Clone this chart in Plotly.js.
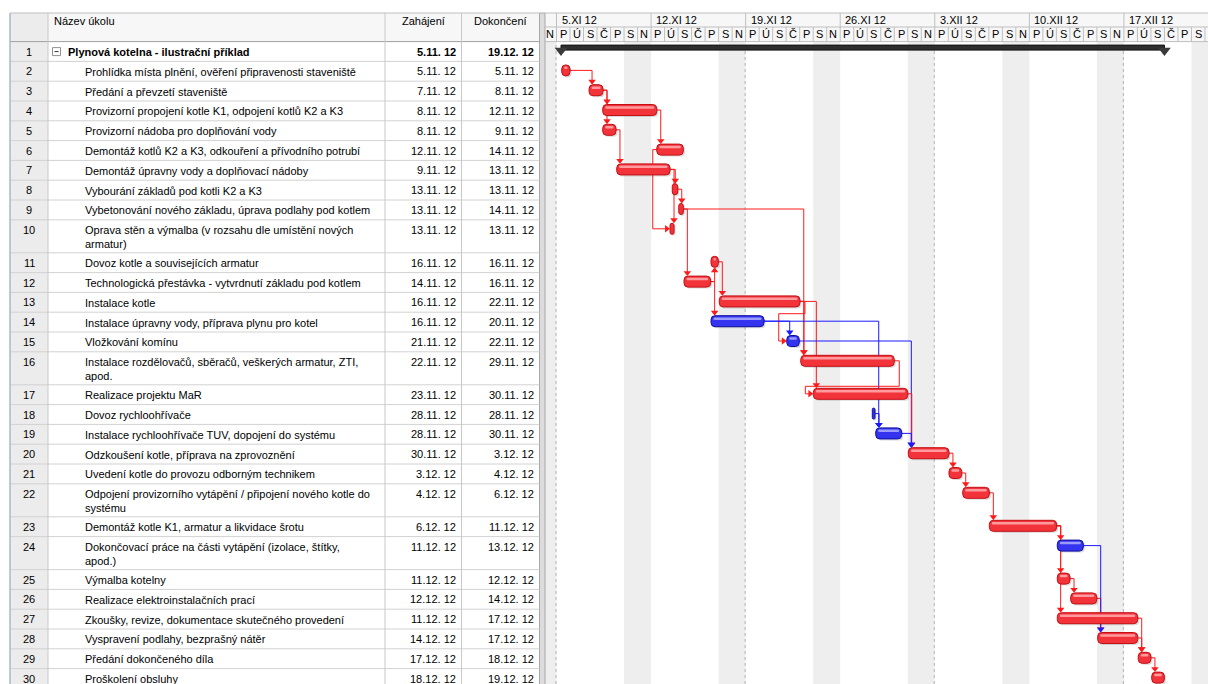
<!DOCTYPE html>
<html><head><meta charset="utf-8">
<script src="https://cdn.plot.ly/plotly-3.0.1.min.js"></script>
<style>html,body{margin:0;padding:0;background:#fff;}#chart{width:1208px;height:684px;}</style>
</head><body><div id="chart"></div>
<script>
// ---------------- DATA ----------------
const taskIds = [1,2,3,4,5,6,7,8,9,10,11,12,13,14,15,16,17,18,19,20,21,22,23,24,25,26,27,28,29,30];
const taskNames = [
 'Plynová kotelna - ilustrační příklad',
 'Prohlídka místa plnění, ověření připravenosti staveniště',
 'Předání a převzetí staveniště',
 'Provizorní propojení kotle K1, odpojení kotlů K2 a K3',
 'Provizorní nádoba pro doplňování vody',
 'Demontáž kotlů K2 a K3, odkouření a přívodního potrubí',
 'Demontáž úpravny vody a doplňovací nádoby',
 'Vybourání základů pod kotli K2 a K3',
 'Vybetonování nového základu, úprava podlahy pod kotlem',
 'Oprava stěn a výmalba (v rozsahu dle umístění nových<br>armatur)',
 'Dovoz kotle a souvisejících armatur',
 'Technologická přestávka - vytvrdnutí základu pod kotlem',
 'Instalace kotle',
 'Instalace úpravny vody, příprava plynu pro kotel',
 'Vložkování komínu',
 'Instalace rozdělovačů, sběračů, veškerých armatur, ZTI,<br>apod.',
 'Realizace projektu MaR',
 'Dovoz rychloohřívače',
 'Instalace rychloohřívače TUV, dopojení do systému',
 'Odzkoušení kotle, příprava na zprovoznění',
 'Uvedení kotle do provozu odborným technikem',
 'Odpojení provizorního vytápění / připojení nového kotle do<br>systému',
 'Demontáž kotle K1, armatur a likvidace šrotu',
 'Dokončovací práce na části vytápění (izolace, štítky,<br>apod.)',
 'Výmalba kotelny',
 'Realizace elektroinstalačních prací',
 'Zkoušky, revize, dokumentace skutečného provedení',
 'Vyspravení podlahy, bezprašný nátěr',
 'Předání dokončeného díla',
 'Proškolení obsluhy'
];
const startLabels = ['5.11. 12','5.11. 12','7.11. 12','8.11. 12','8.11. 12','12.11. 12','9.11. 12','13.11. 12','13.11. 12','13.11. 12','16.11. 12','14.11. 12','16.11. 12','16.11. 12','21.11. 12','22.11. 12','23.11. 12','28.11. 12','28.11. 12','30.11. 12','3.12. 12','4.12. 12','6.12. 12','11.12. 12','11.12. 12','12.12. 12','11.12. 12','14.12. 12','17.12. 12','18.12. 12'];
const finishLabels = ['19.12. 12','5.11. 12','8.11. 12','12.11. 12','9.11. 12','14.11. 12','13.11. 12','13.11. 12','14.11. 12','13.11. 12','16.11. 12','16.11. 12','22.11. 12','20.11. 12','22.11. 12','29.11. 12','30.11. 12','28.11. 12','30.11. 12','3.12. 12','4.12. 12','6.12. 12','11.12. 12','13.12. 12','12.12. 12','14.12. 12','17.12. 12','17.12. 12','18.12. 12','19.12. 12'];
// bar extents as drawn in the timeline
const barStart = ['2012-11-05 08:00','2012-11-05 09:15','2012-11-07 09:50','2012-11-08 10:05','2012-11-08 10:05','2012-11-12 10:05','2012-11-09 11:00','2012-11-13 13:40','2012-11-14 01:10','2012-11-13 09:40','2012-11-16 10:30','2012-11-14 10:30','2012-11-17 01:10','2012-11-16 10:30','2012-11-22 01:00','2012-11-23 01:55','2012-11-24 00:15','2012-11-28 09:00','2012-11-28 15:05','2012-12-01 01:00','2012-12-04 01:10','2012-12-05 01:40','2012-12-07 00:55','2012-12-12 01:40','2012-12-12 01:40','2012-12-13 01:25','2012-12-12 01:40','2012-12-15 01:25','2012-12-18 01:25','2012-12-19 01:25'];
const barEnd = ['2012-12-20 00:00','2012-11-06 00:00','2012-11-08 10:35','2012-11-12 10:05','2012-11-09 09:40','2012-11-14 09:20','2012-11-13 09:40','2012-11-13 23:20','2012-11-14 09:20','2012-11-13 16:50','2012-11-16 23:30','2012-11-16 09:50','2012-11-23 00:30','2012-11-20 08:40','2012-11-22 23:20','2012-11-30 00:00','2012-12-01 00:00','2012-11-28 13:50','2012-11-30 13:10','2012-12-04 01:10','2012-12-04 23:50','2012-12-07 00:55','2012-12-12 00:30','2012-12-13 23:50','2012-12-13 00:15','2012-12-14 23:45','2012-12-18 00:30','2012-12-18 00:30','2012-12-19 00:00','2012-12-19 23:50'];
const isSummary = [true,false,false,false,false,false,false,false,false,false,false,false,false,false,false,false,false,false,false,false,false,false,false,false,false,false,false,false,false,false];
const isCritical = [true,true,true,true,true,true,true,true,true,true,true,true,true,false,false,true,true,false,false,true,true,true,true,false,true,true,true,true,true,true];
// finish-to-start links [predecessor id, successor id]
const fsLinks = [[2,3],[3,4],[3,5],[4,6],[5,7],[7,8],[8,9],[7,10],[9,12],[12,11],[12,14],[11,13],[9,16],[13,15],[13,16],[13,17],[14,15],[14,19],[18,19],[16,17],[15,20],[17,20],[19,20],[20,21],[21,22],[22,23],[23,24],[23,25],[23,27],[25,26],[26,28],[24,28],[27,29],[28,29],[29,30]];
// start-to-start links
const ssLinks = [[6,10]];
const weekStarts = ['2012-11-05','2012-11-12','2012-11-19','2012-11-26','2012-12-03','2012-12-10','2012-12-17'];
const weekLabels = ['5.XI 12','12.XI 12','19.XI 12','26.XI 12','3.XII 12','10.XII 12','17.XII 12'];
const dayLetters = ['N','P','Ú','S','Č','P','S']; // Sunday..Saturday
const headerLabels = ['Název úkolu','Zahájení','Dokončení'];

// ---------------- LAYOUT CONSTANTS ----------------
const W = 1208, H = 684;
const GX0 = 545;            // left edge of timeline
const ORIGIN_PX = 556.5;    // pixel of 5.11.2012 00:00
const PXDAY = 13.51;        // pixels per day
const HDR_TOP = 13, HDR_MID = 27, HDR_BOT = 41.6;
const ROW_H = 19.8, ROW_H2 = 33;
const COL = {left:10, num:48, start:385, end:461.5, right:539.5};
const FONT = 'Liberation Sans, Arial, sans-serif';
const DAY = 86400000;
const T0 = Date.UTC(2012,10,5);
const MSPX = DAY / PXDAY;
const RED = '#ff1a1a', BLUE = '#1a1aff';

function parseDT(s){const p=s.split(' ');const d=p[0].split('-').map(Number);const t=(p[1]||'00:00').split(':').map(Number);return Date.UTC(d[0],d[1]-1,d[2],t[0],t[1]);}
function fmt(ms){return new Date(ms).toISOString().slice(0,23).replace('T',' ');}
const PX = x => x / W;
const PY = y => 1 - y / H;
const xL = T0 + (GX0 - ORIGIN_PX) * MSPX;
const xR = T0 + (W - ORIGIN_PX) * MSPX;

// rows
const nLines = taskNames.map(n => n.split('<br>').length);
const rowTop = []; let acc = HDR_BOT;
nLines.forEach(l => { rowTop.push(acc); acc += (l === 1 ? ROW_H : ROW_H2); });
const rowBot = rowTop.map((t,i) => t + (nLines[i] === 1 ? ROW_H : ROW_H2));
const barY = rowTop.map(t => t + 9);
const S = barStart.map(parseDT), E = barEnd.map(parseDT);
const idx = id => taskIds.indexOf(id);

const shapes = [], annotations = [];

// ---------- timeline background: weekends, biweekly dotted lines ----------
for (let t = T0 - 2*DAY; t < xR; t += DAY) {
  const wd = new Date(t).getUTCDay();
  if (wd === 6) shapes.push({type:'rect', xref:'x', yref:'paper', x0:fmt(t), x1:fmt(t+2*DAY), y0:0, y1:PY(HDR_BOT), fillcolor:'#eeeeee', line:{width:0}, layer:'below'});
}
[0,2,4,6].forEach(k => { const t = parseDT(weekStarts[k]) - 0.5*MSPX; shapes.push({type:'line', xref:'x', yref:'paper', x0:fmt(t), x1:fmt(t), y0:0, y1:PY(HDR_BOT), line:{color:'#b4b4b4', width:1, dash:'dot'}, layer:'below'}); });

// ---------- links ----------
const arrows = {red:{x:[],y:[],s:[]}, blue:{x:[],y:[],s:[]}};
function seg(pts, color){
  for (let k=0;k<pts.length-1;k++) shapes.push({type:'line', xref:'x', yref:'y', x0:fmt(pts[k][0]), y0:pts[k][1], x1:fmt(pts[k+1][0]), y1:pts[k+1][1], line:{color:color, width:1}, layer:'below'});
}
fsLinks.forEach(([a,b]) => {
  const p = idx(a), s = idx(b);
  const key = isCritical[p] ? 'red' : 'blue', color = isCritical[p] ? RED : BLUE;
  const px = E[p], py = barY[p], sx = S[s], sy = barY[s];
  if (sx >= px - 1*MSPX) {
    const ax = Math.max(sx + 3*MSPX, px + 4*MSPX);
    const down = barY[s] > barY[p];
    const yEdge = down ? sy - 5.5 : sy + 5.5;
    seg([[px,py],[ax,py],[ax, down ? yEdge-2 : yEdge+2]], color);
    arrows[key].x.push(fmt(ax)); arrows[key].y.push(down ? yEdge-3.3 : yEdge+3.3); arrows[key].s.push(down ? 'triangle-down' : 'triangle-up');
  } else {
    const turnY = rowBot[p] + 1.5;
    seg([[px,py],[px+5*MSPX,py],[px+5*MSPX,turnY],[sx-8*MSPX,turnY],[sx-8*MSPX,sy],[sx-4*MSPX,sy]], color);
    arrows[key].x.push(fmt(sx-3.3*MSPX)); arrows[key].y.push(sy); arrows[key].s.push('triangle-right');
  }
});
ssLinks.forEach(([a,b]) => {
  const p = idx(a), s = idx(b);
  const key = isCritical[p] ? 'red' : 'blue', color = isCritical[p] ? RED : BLUE;
  const ps = S[p], py = barY[p], ss = S[s], sy = barY[s];
  seg([[ps,py],[ps-4*MSPX,py],[ps-4*MSPX,sy],[ss-4*MSPX,sy]], color);
  arrows[key].x.push(fmt(ss-3.3*MSPX)); arrows[key].y.push(sy); arrows[key].s.push('triangle-right');
});

// ---------- traces ----------
const traces = [];
const taskIdx = taskIds.map((_,i)=>i).filter(i=>!isSummary[i]);
function bars(list, color, lineColor, hi){
  traces.push({type:'bar', orientation:'h', y:list.map(i=>barY[i]), base:list.map(i=>fmt(S[i]+1.5*MSPX)), x:list.map(i=>E[i]-S[i]), width:11, offset:-4, marker:{color:'rgba(0,0,0,0.14)', line:{width:0}, cornerradius:4}, hoverinfo:'skip'});
  traces.push({type:'bar', orientation:'h', y:list.map(i=>barY[i]), base:list.map(i=>fmt(S[i])), x:list.map(i=>E[i]-S[i]), width:11, offset:-5.5, marker:{color:color, line:{color:lineColor, width:1}, cornerradius:4}, hoverinfo:'skip'});
  const hl = list.filter(i => (E[i]-S[i]) > 7*MSPX);
  traces.push({type:'bar', orientation:'h', y:hl.map(i=>barY[i]), base:hl.map(i=>fmt(S[i]+2.5*MSPX)), x:hl.map(i=>E[i]-S[i]-5*MSPX), width:2.5, offset:-3.8, marker:{color:hi, line:{width:0}, cornerradius:1}, hoverinfo:'skip'});
}
bars(taskIdx.filter(i=>isCritical[i]), '#f2343a', '#c40f16', '#ff9a9e');
bars(taskIdx.filter(i=>!isCritical[i]), '#3434f0', '#10109e', '#9a9aff');
// summary
const sumIdx = taskIds.map((_,i)=>i).filter(i=>isSummary[i]);
traces.push({type:'bar', orientation:'h', y:sumIdx.map(i=>rowTop[i]+6), base:sumIdx.map(i=>fmt(S[i])), x:sumIdx.map(i=>E[i]-S[i]), width:5, offset:-2.5, marker:{color:'#2e2e2e', line:{color:'#111', width:1}}, hoverinfo:'skip'});
traces.push({type:'scatter', mode:'markers', x:sumIdx.flatMap(i=>[fmt(S[i]),fmt(E[i])]), y:sumIdx.flatMap(i=>[rowTop[i]+9,rowTop[i]+9]), marker:{symbol:'triangle-down', size:11, color:'#3a3a3a', line:{width:0}}, hoverinfo:'skip'});
// arrowheads
traces.push({type:'scatter', mode:'markers', x:arrows.red.x, y:arrows.red.y, marker:{symbol:arrows.red.s, size:6.5, color:RED, line:{width:0}}, hoverinfo:'skip'});
traces.push({type:'scatter', mode:'markers', x:arrows.blue.x, y:arrows.blue.y, marker:{symbol:arrows.blue.s, size:6.5, color:BLUE, line:{width:0}}, hoverinfo:'skip'});

// ---------- timeline header ----------
shapes.push({type:'rect', xref:'paper', yref:'paper', x0:PX(GX0), x1:1, y0:PY(HDR_BOT), y1:PY(HDR_TOP), fillcolor:'#f7f7f7', line:{width:0}});
[HDR_TOP, HDR_MID, HDR_BOT].forEach(y => shapes.push({type:'line', xref:'paper', yref:'paper', x0:PX(GX0), x1:1, y0:PY(y), y1:PY(y), line:{color:'#bfbfbf', width:1}}));
for (let t = T0 - DAY; t < xR; t += DAY) {
  if (t > xL) shapes.push({type:'line', xref:'x', yref:'paper', x0:fmt(t), x1:fmt(t), y0:PY(HDR_BOT), y1:PY(HDR_MID), line:{color:'#bfbfbf', width:1}});
  const c = t + DAY/2;
  if (c > xL + 4*MSPX && c < xR - 3*MSPX) annotations.push({xref:'x', yref:'paper', x:fmt(c), y:PY(34.5), text:dayLetters[new Date(t).getUTCDay()], showarrow:false, xanchor:'center', yanchor:'middle', font:{family:FONT, size:11, color:'#000'}});
}
weekStarts.forEach((w,k) => {
  const t = parseDT(w);
  shapes.push({type:'line', xref:'x', yref:'paper', x0:fmt(t), x1:fmt(t), y0:PY(HDR_MID), y1:PY(HDR_TOP), line:{color:'#bfbfbf', width:1}});
  annotations.push({xref:'x', yref:'paper', x:fmt(t+3*MSPX), y:PY(20.5), text:weekLabels[k], showarrow:false, xanchor:'left', yanchor:'middle', font:{family:FONT, size:11, color:'#000'}});
});

// ---------- table ----------
const tBot = H + 10;
shapes.push({type:'rect', xref:'paper', yref:'paper', x0:PX(COL.left), x1:PX(COL.right), y0:PY(HDR_BOT), y1:PY(HDR_TOP), fillcolor:'#f7f7f7', line:{width:0}});
shapes.push({type:'rect', xref:'paper', yref:'paper', x0:PX(COL.left), x1:PX(COL.num), y0:PY(tBot), y1:PY(HDR_TOP), fillcolor:'#ececec', line:{width:0}});
shapes.push({type:'rect', xref:'paper', yref:'paper', x0:PX(COL.right), x1:PX(GX0), y0:PY(tBot), y1:PY(HDR_TOP), fillcolor:'#dcdcdc', line:{color:'#a8a8a8', width:1}});
shapes.push({type:'line', xref:'paper', yref:'paper', x0:PX(COL.left), x1:PX(COL.right), y0:PY(HDR_TOP), y1:PY(HDR_TOP), line:{color:'#bfbfbf', width:1}});
shapes.push({type:'line', xref:'paper', yref:'paper', x0:PX(COL.left), x1:PX(COL.right), y0:PY(HDR_BOT), y1:PY(HDR_BOT), line:{color:'#a0a0a0', width:1}});
rowBot.forEach(y => shapes.push({type:'line', xref:'paper', yref:'paper', x0:PX(COL.left), x1:PX(COL.right), y0:PY(y), y1:PY(y), line:{color:'#d2d2d2', width:1}}));
[COL.num, COL.start, COL.end].forEach(x => shapes.push({type:'line', xref:'paper', yref:'paper', x0:PX(x), x1:PX(x), y0:PY(tBot), y1:PY(HDR_TOP), line:{color:'#c8c8c8', width:1}}));
shapes.push({type:'line', xref:'paper', yref:'paper', x0:PX(COL.left), x1:PX(COL.left), y0:PY(tBot), y1:PY(HDR_TOP), line:{color:'#a9b9d0', width:1.5}});
sumIdx.forEach(i => {
  const cy = rowTop[i] + 10;
  shapes.push({type:'rect', xref:'paper', yref:'paper', x0:PX(52.5), x1:PX(60.5), y0:PY(cy+4), y1:PY(cy-4), fillcolor:'#fff', line:{color:'#909090', width:1}});
  shapes.push({type:'line', xref:'paper', yref:'paper', x0:PX(54.5), x1:PX(58.5), y0:PY(cy), y1:PY(cy), line:{color:'#333', width:1}});
});
annotations.push({xref:'paper', yref:'paper', x:PX(52), y:PY(21), text:headerLabels[0], showarrow:false, xanchor:'left', yanchor:'middle', font:{family:FONT, size:11, color:'#000'}});
annotations.push({xref:'paper', yref:'paper', x:PX((COL.start+COL.end)/2), y:PY(21), text:headerLabels[1], showarrow:false, xanchor:'center', yanchor:'middle', font:{family:FONT, size:11, color:'#000'}});
annotations.push({xref:'paper', yref:'paper', x:PX((COL.end+COL.right)/2), y:PY(21), text:headerLabels[2], showarrow:false, xanchor:'center', yanchor:'middle', font:{family:FONT, size:11, color:'#000'}});
taskIds.forEach((id,i) => {
  const cy = rowTop[i] + 10;
  const bold = isSummary[i];
  const f = {family:FONT, size:11, color:'#000'};
  const wrap = s => bold ? '<b>'+s+'</b>' : s;
  annotations.push({xref:'paper', yref:'paper', x:PX((COL.left+COL.num)/2), y:PY(cy), text:String(id), showarrow:false, xanchor:'center', yanchor:'middle', font:f});
  annotations.push({xref:'paper', yref:'paper', x:PX(bold ? 66 : 83), y:PY(rowTop[i]+2.4), text:wrap(taskNames[i]), showarrow:false, xanchor:'left', yanchor:'top', align:'left', font:f});
  annotations.push({xref:'paper', yref:'paper', x:PX(COL.end-3.5), y:PY(cy), text:wrap(startLabels[i]), showarrow:false, xanchor:'right', yanchor:'middle', font:f});
  annotations.push({xref:'paper', yref:'paper', x:PX(COL.right-3.5), y:PY(cy), text:wrap(finishLabels[i]), showarrow:false, xanchor:'right', yanchor:'middle', font:f});
});

const layout = {
  width:W, height:H, margin:{l:0,r:0,t:0,b:0}, paper_bgcolor:'#ffffff', plot_bgcolor:'rgba(0,0,0,0)',
  barmode:'overlay', showlegend:false, font:{family:FONT, size:11, color:'#000'},
  xaxis:{type:'date', domain:[PX(GX0),1], range:[fmt(xL), fmt(xR)], visible:false, fixedrange:true},
  yaxis:{range:[H,0], domain:[0,1], visible:false, fixedrange:true},
  shapes:shapes, annotations:annotations
};
Plotly.newPlot('chart', traces, layout, {displayModeBar:false, staticPlot:true});
</script>
</body></html>
